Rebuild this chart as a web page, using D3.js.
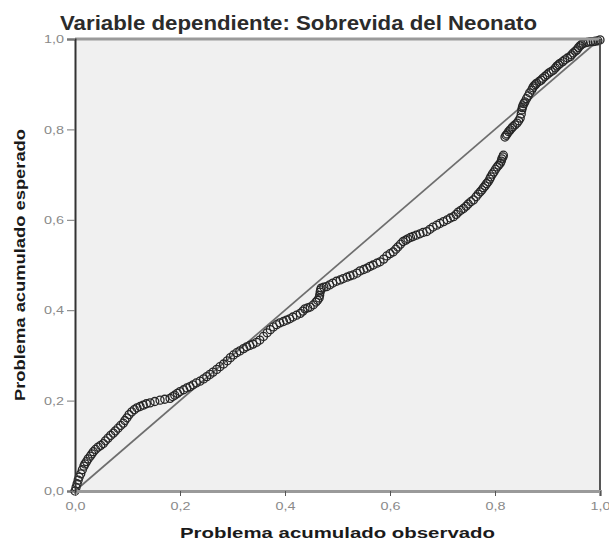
<!DOCTYPE html>
<html>
<head>
<meta charset="utf-8">
<script src="https://cdn.jsdelivr.net/npm/d3@7"></script>
<style>
  body { margin: 0; background: #fff; }
  #pp-plot { width: 609px; height: 544px; }
</style>
</head>
<body>
<div id="pp-plot"></div>
<script>
const titleText = "Variable dependiente: Sobrevida del Neonato";
const xTitle = "Problema acumulado observado";
const yTitle = "Problema acumulado esperado";

const tickValues = [0, 0.2, 0.4, 0.6, 0.8, 1.0];
const tickLabels = ["0,0", "0,2", "0,4", "0,6", "0,8", "1,0"];

const observed = [
  0.000, 0.002, 0.004, 0.006, 0.008, 0.011, 0.014, 0.017, 0.019, 0.022,
  0.025, 0.029, 0.032, 0.035, 0.039, 0.044, 0.049, 0.054, 0.058, 0.063,
  0.068, 0.073, 0.077, 0.082, 0.087, 0.092, 0.095, 0.099, 0.103, 0.108,
  0.113, 0.118, 0.124, 0.130, 0.136, 0.143, 0.152, 0.162, 0.171, 0.181,
  0.186, 0.190, 0.195, 0.200, 0.207, 0.213, 0.219, 0.225, 0.231, 0.238,
  0.245, 0.251, 0.257, 0.263, 0.270, 0.276, 0.283, 0.290, 0.296, 0.302,
  0.308, 0.314, 0.321, 0.327, 0.333, 0.339, 0.346, 0.352, 0.359, 0.366,
  0.372, 0.378, 0.384, 0.390, 0.397, 0.403, 0.409, 0.415, 0.422, 0.429,
  0.434, 0.438, 0.443, 0.448, 0.454, 0.459, 0.462, 0.465, 0.466, 0.467,
  0.468, 0.469, 0.474, 0.479, 0.485, 0.491, 0.498, 0.505, 0.511, 0.518,
  0.524, 0.530, 0.537, 0.543, 0.550, 0.556, 0.562, 0.568, 0.575, 0.581,
  0.588, 0.594, 0.600, 0.606, 0.611, 0.615, 0.620, 0.625, 0.630, 0.634,
  0.639, 0.644, 0.650, 0.657, 0.663, 0.670, 0.676, 0.682, 0.689, 0.695,
  0.702, 0.709, 0.715, 0.721, 0.726, 0.730, 0.735, 0.740, 0.745, 0.749,
  0.754, 0.759, 0.764, 0.768, 0.772, 0.775, 0.778, 0.781, 0.784, 0.787,
  0.790, 0.792, 0.795, 0.798, 0.801, 0.804, 0.807, 0.810, 0.812, 0.813,
  0.815, 0.816, 0.819, 0.821, 0.823, 0.826, 0.829, 0.832, 0.834, 0.838,
  0.842, 0.845, 0.848, 0.850, 0.851, 0.852, 0.853, 0.855, 0.857, 0.860,
  0.863, 0.866, 0.870, 0.872, 0.874, 0.877, 0.879, 0.884, 0.888, 0.891,
  0.895, 0.899, 0.903, 0.907, 0.911, 0.915, 0.918, 0.921, 0.924, 0.929,
  0.933, 0.938, 0.943, 0.946, 0.949, 0.953, 0.956, 0.959, 0.962, 0.965,
  0.968, 0.973, 0.977, 0.982, 0.987, 0.991, 0.996, 1.000
];

// expected cumulative probability (y)
const expected = [
  0.000, 0.008, 0.016, 0.024, 0.031, 0.038, 0.047, 0.055, 0.060, 0.065,
  0.071, 0.077, 0.082, 0.087, 0.092, 0.097, 0.101, 0.105, 0.111, 0.117,
  0.123, 0.128, 0.133, 0.139, 0.145, 0.150, 0.156, 0.162, 0.169, 0.175,
  0.180, 0.184, 0.187, 0.190, 0.193, 0.195, 0.198, 0.201, 0.203, 0.205,
  0.209, 0.212, 0.216, 0.220, 0.224, 0.228, 0.231, 0.235, 0.239, 0.243,
  0.248, 0.253, 0.258, 0.263, 0.269, 0.275, 0.281, 0.288, 0.295, 0.301,
  0.306, 0.310, 0.315, 0.319, 0.322, 0.325, 0.329, 0.334, 0.342, 0.350,
  0.357, 0.363, 0.368, 0.372, 0.375, 0.378, 0.381, 0.385, 0.389, 0.393,
  0.398, 0.403, 0.405, 0.407, 0.412, 0.418, 0.422, 0.427, 0.433, 0.440,
  0.445, 0.449, 0.451, 0.452, 0.456, 0.460, 0.464, 0.467, 0.470, 0.473,
  0.476, 0.478, 0.482, 0.487, 0.490, 0.493, 0.497, 0.500, 0.504, 0.507,
  0.513, 0.520, 0.525, 0.529, 0.535, 0.540, 0.546, 0.552, 0.555, 0.558,
  0.561, 0.563, 0.566, 0.569, 0.572, 0.574, 0.579, 0.584, 0.588, 0.592,
  0.596, 0.600, 0.604, 0.607, 0.612, 0.617, 0.621, 0.625, 0.630, 0.635,
  0.640, 0.644, 0.651, 0.657, 0.662, 0.666, 0.671, 0.675, 0.680, 0.684,
  0.690, 0.695, 0.701, 0.706, 0.712, 0.717, 0.721, 0.725, 0.730, 0.735,
  0.739, 0.743, 0.783, 0.787, 0.790, 0.795, 0.799, 0.803, 0.806, 0.810,
  0.814, 0.819, 0.825, 0.834, 0.843, 0.848, 0.852, 0.857, 0.861, 0.868,
  0.874, 0.881, 0.887, 0.892, 0.896, 0.899, 0.902, 0.906, 0.909, 0.913,
  0.917, 0.921, 0.925, 0.928, 0.931, 0.936, 0.940, 0.943, 0.946, 0.950,
  0.954, 0.958, 0.961, 0.965, 0.969, 0.973, 0.976, 0.981, 0.985, 0.988,
  0.990, 0.992, 0.993, 0.994, 0.994, 0.995, 0.996, 0.998
];

(function() {
  const width = 609;
  const height = 544;
  const margin = { top: 39, right: 9, bottom: 53, left: 75 };
  const plotW = width - margin.left - margin.right;
  const plotH = height - margin.top - margin.bottom;

  const svg = d3.select("#pp-plot")
    .append("svg")
    .attr("width", width)
    .attr("height", height)
    .style("font-family", "'Liberation Sans', Arial, sans-serif");

  const x = d3.scaleLinear().domain([0, 1]).range([margin.left, margin.left + plotW]);
  const y = d3.scaleLinear().domain([0, 1]).range([margin.top + plotH, margin.top]);

  // plot background
  svg.append("rect")
    .attr("x", x(0))
    .attr("y", y(1))
    .attr("width", plotW)
    .attr("height", plotH)
    .attr("fill", "#f0f0f0");

  // reference diagonal
  svg.append("line")
    .attr("x1", x(0)).attr("y1", y(0))
    .attr("x2", x(1)).attr("y2", y(1))
    .attr("stroke", "#6e6e6e")
    .attr("stroke-width", 1.7);

  const points = observed.map((v, i) => ({ p: v, q: expected[i] }));

  svg.append("g")
    .selectAll("circle")
    .data(points)
    .enter()
    .append("circle")
    .attr("cx", d => x(d.p))
    .attr("cy", d => y(d.q))
    .attr("r", 4)
    .attr("fill", "none")
    .attr("stroke", "#262626")
    .attr("stroke-width", 1.3);

  // frame: top and right edges
  svg.append("line")
    .attr("x1", x(0)).attr("x2", x(1))
    .attr("y1", y(1)).attr("y2", y(1))
    .attr("stroke", "#9a9a9a")
    .attr("stroke-width", 3);
  svg.append("line")
    .attr("x1", x(1)).attr("x2", x(1))
    .attr("y1", y(1)).attr("y2", y(0))
    .attr("stroke", "#444")
    .attr("stroke-width", 1.8);

  const labelFor = v => tickLabels[tickValues.indexOf(v)];

  const xAxis = svg.append("g")
    .attr("transform", `translate(0, ${y(0)})`)
    .call(d3.axisBottom(x).tickValues(tickValues).tickFormat(labelFor).tickSize(5).tickPadding(6));
  xAxis.select(".domain")
    .attr("stroke", "#9a9a9a")
    .attr("stroke-width", 3);
  xAxis.selectAll(".tick line").attr("stroke", "#555");
  xAxis.selectAll(".tick text")
    .attr("fill", "#8a8a8a")
    .attr("font-size", 11.5)
    .attr("textLength", 20)
    .attr("lengthAdjust", "spacingAndGlyphs");

  const yAxis = svg.append("g")
    .attr("transform", `translate(${x(0)}, 0)`)
    .call(d3.axisLeft(y).tickValues(tickValues).tickFormat(labelFor).tickSize(8).tickPadding(3));
  yAxis.select(".domain")
    .attr("stroke", "#333")
    .attr("stroke-width", 2);
  yAxis.selectAll(".tick line").attr("stroke", "#777");
  yAxis.selectAll(".tick text")
    .attr("fill", "#8a8a8a")
    .attr("font-size", 11.5)
    .attr("textLength", 20)
    .attr("lengthAdjust", "spacingAndGlyphs");

  // titles
  svg.append("text")
    .attr("x", 60)
    .attr("y", 30)
    .attr("font-size", 21)
    .attr("font-weight", "bold")
    .attr("fill", "#2b2b2b")
    .attr("textLength", 477)
    .attr("lengthAdjust", "spacingAndGlyphs")
    .text(titleText);

  svg.append("text")
    .attr("x", (x(0) + x(1)) / 2)
    .attr("y", 538)
    .attr("text-anchor", "middle")
    .attr("font-size", 14)
    .attr("font-weight", "bold")
    .attr("fill", "#1a1a1a")
    .attr("textLength", 315)
    .attr("lengthAdjust", "spacingAndGlyphs")
    .text(xTitle);

  svg.append("text")
    .attr("transform", `translate(25, ${(y(0) + y(1)) / 2}) rotate(-90)`)
    .attr("text-anchor", "middle")
    .attr("font-size", 14)
    .attr("font-weight", "bold")
    .attr("fill", "#1a1a1a")
    .attr("textLength", 272)
    .attr("lengthAdjust", "spacingAndGlyphs")
    .text(yTitle);
})();
</script>
</body>
</html>
